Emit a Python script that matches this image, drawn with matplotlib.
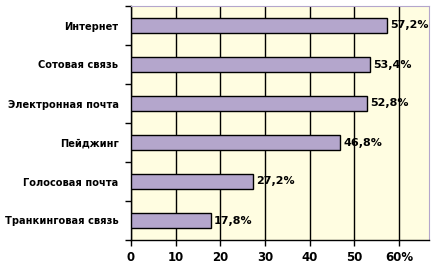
import numpy as np
import matplotlib.pyplot as plt

categories = ['Интернет', 'Сотовая связь', 'Электронная почта', 'Пейджинг',
              'Голосовая почта', 'Транкинговая связь']
values = [57.2, 53.4, 52.8, 46.8, 27.2, 17.8]
value_labels = ['57,2%', '53,4%', '52,8%', '46,8%', '27,2%', '17,8%']
xticks = [0, 10, 20, 30, 40, 50, 60]
xtick_labels = ['0', '10', '20', '30', '40', '50', '60%']

bg = '#fffde1'
bar_color = '#b4a6cc'
frame = '#b4a6cc'

fig = plt.figure(figsize=(4.41, 2.70), dpi=100)
ax = fig.add_axes([131/441, 1 - 240/270, 298/441, 234/270])
ax.set_facecolor(bg)

y = np.arange(len(categories))
ax.barh(y, values, height=0.37, color=bar_color, edgecolor='black', linewidth=1, zorder=3)
for yi, v, lab in zip(y, values, value_labels):
    ax.text(v + 0.8, yi, lab, va='center', ha='left', fontsize=8, fontweight='bold', zorder=4)

ax.set_xlim(0, 66.7)
ax.set_ylim(len(categories) - 0.5, -0.5)

ax.set_xticks(xticks)
ax.set_xticklabels(xtick_labels, fontsize=8.5, fontweight='bold')
ax.xaxis.grid(True, color='black', linewidth=1, zorder=1)
ax.set_axisbelow(True)

ax.set_yticks(y)
ax.set_yticklabels(categories, fontsize=7.1, fontweight='bold')
ax.tick_params(axis='y', length=0, pad=9)
ax.set_yticks(np.arange(-0.5, len(categories), 1), minor=True)
ax.tick_params(axis='y', which='minor', length=4, width=1, direction='out')
ax.tick_params(axis='x', length=4, width=1, direction='out', pad=4)

ax.spines['left'].set_color('black')
ax.spines['bottom'].set_color('black')
ax.spines['left'].set_linewidth(1)
ax.spines['bottom'].set_linewidth(1)
ax.spines['top'].set_color(frame)
ax.spines['right'].set_color(frame)

fig.savefig('out.png', dpi=100, facecolor='white')
